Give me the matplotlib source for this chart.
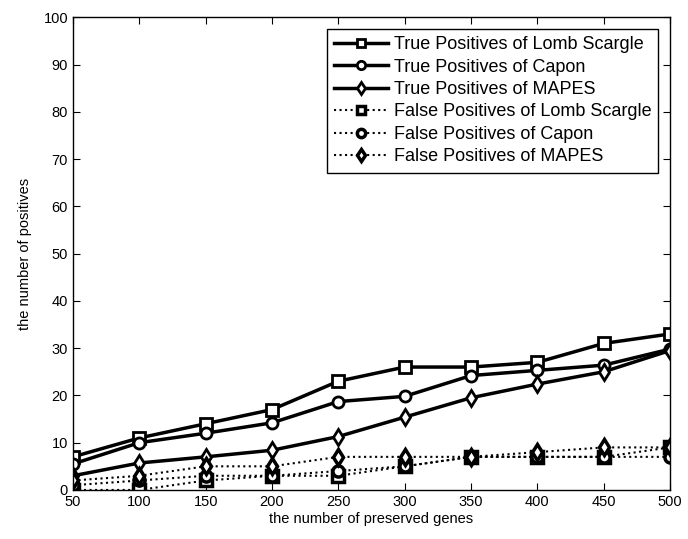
import numpy as np
import matplotlib.pyplot as plt

plt.rcParams['font.family'] = ['Liberation Sans', 'DejaVu Sans']
plt.rcParams['font.size'] = 10

# ── Data ──────────────────────────────────────────────────────────────────────
genes = [50, 100, 150, 200, 250, 300, 350, 400, 450, 500]

tp_lomb  = [7, 11, 14, 17, 23, 26, 26, 27, 31, 33]
tp_capon = [5.5, 10, 12, 14.2, 18.7, 19.8, 24.2, 25.3, 26.4, 29.8]
tp_mapes = [3, 5.7, 7, 8.4, 11.3, 15.4, 19.5, 22.4, 25, 29.5]

fp_lomb  = [0, 0, 2, 3, 3, 5, 7, 7, 7, 9]
fp_capon = [1, 2, 3, 3, 4, 5, 7, 7, 7, 7]
fp_mapes = [2, 3, 5, 5, 7, 7, 7, 8, 9, 9]

# ── Plot ──────────────────────────────────────────────────────────────────────
fig = plt.figure(figsize=(6.88, 5.39), dpi=100)
ax = fig.add_axes([0.106, 0.091, 0.868, 0.877])

solid = dict(color="k", lw=2.5, ms=8, mew=2, mfc="white", mec="k")
dotted = dict(color="k", lw=1.5, ls=":", ms=8, mew=2.5, mfc="white", mec="k")

ax.plot(genes, tp_lomb,  marker="s", label="True Positives of Lomb Scargle", **solid)
ax.plot(genes, tp_capon, marker="o", label="True Positives of Capon", **solid)
ax.plot(genes, tp_mapes, marker="d", label="True Positives of MAPES", **solid)
ax.plot(genes, fp_lomb,  marker="s", label="False Positives of Lomb Scargle", **dotted)
ax.plot(genes, fp_capon, marker="o", label="False Positives of Capon", **dotted)
ax.plot(genes, fp_mapes, marker="d", label="False Positives of MAPES", **dotted)

ax.set_xlim(50, 500)
ax.set_ylim(0, 100)
ax.set_xticks(np.arange(50, 501, 50))
ax.set_yticks(np.arange(0, 101, 10))
ax.tick_params(direction="in", top=True, right=True, length=5, labelsize=10.5)
for sp in ax.spines.values():
    sp.set_linewidth(1)

ax.set_xlabel("the number of preserved genes", fontsize=10.5, labelpad=2)
ax.set_ylabel("the number of positives", fontsize=10.5, labelpad=8)

leg = ax.legend(loc="upper right", fontsize=13, handlelength=3.0, handletextpad=0.3,
                borderaxespad=0.65, borderpad=0.4, labelspacing=0.3, markerscale=0.75,
                fancybox=False, framealpha=1, edgecolor="k")
leg.get_frame().set_linewidth(1)

fig.savefig("out.png", dpi=100)
